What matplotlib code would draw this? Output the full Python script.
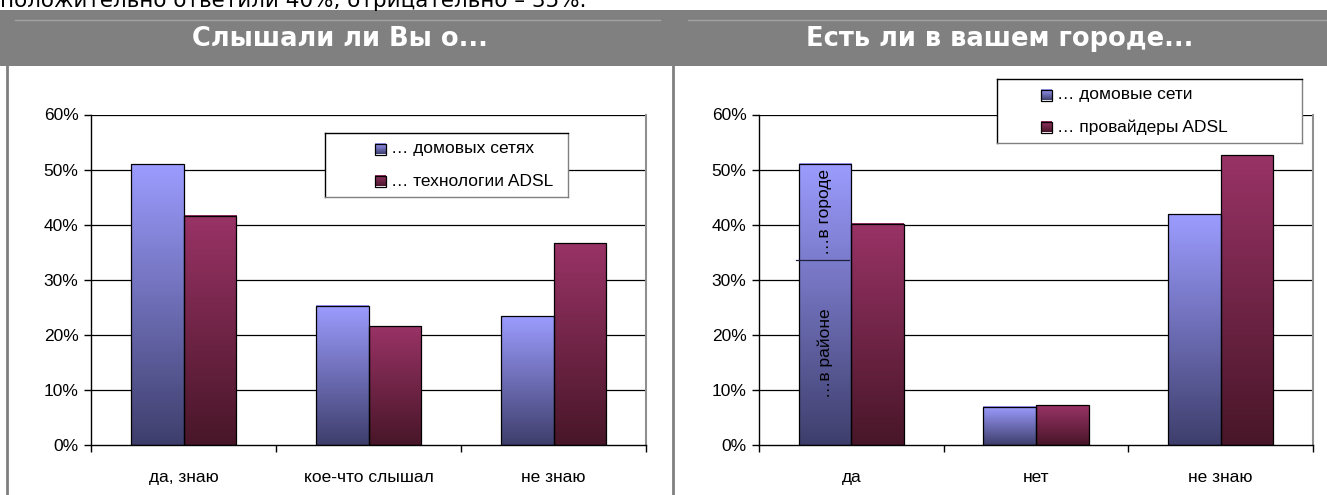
import numpy as np
import matplotlib
matplotlib.use("Agg")
import matplotlib.pyplot as plt
from matplotlib.patches import Rectangle
from matplotlib.lines import Line2D
from matplotlib.ticker import FuncFormatter, FixedLocator

# data
left_title = "Слышали ли Вы о..."
left_cats = ["да, знаю", "кое-что слышал", "не знаю"]
left_home = [51.0, 25.3, 23.4]
left_adsl = [41.6, 21.6, 36.6]
left_labels = ["… домовых сетях", "… технологии ADSL"]

right_title = "Есть ли в вашем городе..."
right_cats = ["да", "нет", "не знаю"]
right_home = [51.1, 6.9, 41.9]
right_adsl = [40.2, 7.2, 52.6]
right_labels = ["… домовые сети", "… провайдеры ADSL"]
right_split = 33.5  # "в районе" part of the first blue bar

top_text = "положительно ответили 40%, отрицательно – 35%."

W, H = 1327, 495
BLUE = ("#9c9cff", "#3e3e6c")
RED = ("#993366", "#481628")

plt.rcParams["font.family"] = ["Liberation Sans", "DejaVu Sans"]

fig = plt.figure(figsize=(W / 100, H / 100), dpi=100)


def fx(x):
    return x / W


def fy(y):
    return 1 - y / H


def gradient(top, bottom, n=256):
    a = np.array(matplotlib.colors.to_rgb(top))
    b = np.array(matplotlib.colors.to_rgb(bottom))
    t = np.linspace(0, 1, n)[:, None]
    return (a * (1 - t) + b * t)[:, None, :]


# header band and panel borders
fig.patches.append(Rectangle((0, fy(66)), 1, fy(10) - fy(66), transform=fig.transFigure,
                             facecolor="#808080", edgecolor="none", zorder=0))
for x0, x1 in [(15, 660), (688, 1327)]:
    fig.lines.append(Line2D([fx(x0), fx(x1)], [fy(20), fy(20)], transform=fig.transFigure,
                            color="#a2a2a2", lw=1))
for x in [7, 673]:
    fig.lines.append(Line2D([fx(x), fx(x)], [fy(66), 0], transform=fig.transFigure,
                            color="#808080", lw=2))

fig.text(fx(0), fy(7), top_text, fontsize=15.5, family="DejaVu Sans", va="baseline", ha="left")
fig.text(fx(340), fy(39), left_title, fontsize=18.5, family="DejaVu Sans", weight="bold",
         color="white", ha="center", va="center")
fig.text(fx(1000), fy(39), right_title, fontsize=18.5, family="DejaVu Sans", weight="bold",
         color="white", ha="center", va="center")


def draw_chart(ax, cats, home, adsl):
    w = 0.2857
    x = np.arange(len(cats))
    for vals, off, col in [(home, -w / 2, BLUE), (adsl, w / 2, RED)]:
        bars = ax.bar(x + off, vals, w, facecolor="none", edgecolor="black", lw=0.9, zorder=3)
        for b in bars:
            x0, h = b.get_x(), b.get_height()
            ax.imshow(gradient(*col), extent=(x0, x0 + w, 0, h), aspect="auto",
                      interpolation="bilinear", zorder=2)
    ax.set_xlim(-0.5, len(cats) - 0.5)
    ax.set_ylim(0, 60)
    ax.set_yticks(np.arange(0, 61, 10))
    ax.yaxis.set_major_formatter(FuncFormatter(lambda v, p: f"{v:.0f}%"))
    ax.set_xticks(x)
    ax.set_xticklabels(cats)
    ax.xaxis.set_minor_locator(FixedLocator(np.arange(-0.5, len(cats), 1)))
    ax.tick_params(axis="x", which="major", length=0, pad=18, labelsize=12.5)
    ax.tick_params(axis="x", which="minor", length=5, width=1, direction="out")
    ax.tick_params(axis="y", length=5, width=1, direction="out", pad=4, labelsize=12.5)
    for v in range(10, 61, 10):
        ax.axhline(v, color="black", lw=0.9, zorder=1)
    ax.spines["top"].set_visible(False)
    ax.spines["right"].set_color("#909090")
    ax.spines["right"].set_linewidth(1.5)
    ax.spines["left"].set_linewidth(1)
    ax.spines["bottom"].set_linewidth(1)
    ax.set_facecolor("white")
    return w


def draw_legend(box, labels, cols, pad_left):
    x0, y0, x1, y1 = box
    lax = fig.add_axes([fx(x0), fy(y1), fx(x1) - fx(x0), fy(y0) - fy(y1)])
    lax.set_xticks([])
    lax.set_yticks([])
    for s in lax.spines.values():
        s.set_linewidth(1)
    lax.spines["right"].set_color("#808080")
    lax.spines["bottom"].set_color("#808080")
    n = len(labels)
    step = (y1 - y0) / n
    for i, (lab, col) in enumerate(zip(labels, cols)):
        yc = y0 + step * (i + 0.5)
        mx = x0 + pad_left
        lax.imshow(gradient(*col), extent=(mx, mx + 11, yc + 5.5, yc - 5.5), aspect="auto",
                   interpolation="bilinear")
        lax.add_patch(Rectangle((mx, yc - 5.5), 11, 11, facecolor="none", edgecolor="black", lw=0.9))
        lax.text(mx + 16, yc, lab, fontsize=12.5, va="center", ha="left")
    lax.set_xlim(x0, x1)
    lax.set_ylim(y1, y0)


ax1 = fig.add_axes([fx(91), fy(445), fx(646) - fx(91), fy(114.5) - fy(445)])
draw_chart(ax1, left_cats, left_home, left_adsl)

ax2 = fig.add_axes([fx(759), fy(445), fx(1313) - fx(759), fy(114.5) - fy(445)])
w = draw_chart(ax2, right_cats, right_home, right_adsl)
ax2.plot([-w - 0.015, -0.015], [right_split, right_split], color="#202040", lw=0.9, zorder=4)
ax2.text(-w / 2, right_split / 2, "…в районе", rotation=90, ha="center", va="center",
         fontsize=12.5, zorder=5)
ax2.text(-w / 2, (right_split + right_home[0]) / 2, "…в городе", rotation=90, ha="center",
         va="center", fontsize=12.5, zorder=5)

draw_legend((325, 133, 568, 197), left_labels, [BLUE, RED], 50)
draw_legend((997, 79, 1302, 143), right_labels, [BLUE, RED], 44)

fig.savefig("out.png", dpi=100)
